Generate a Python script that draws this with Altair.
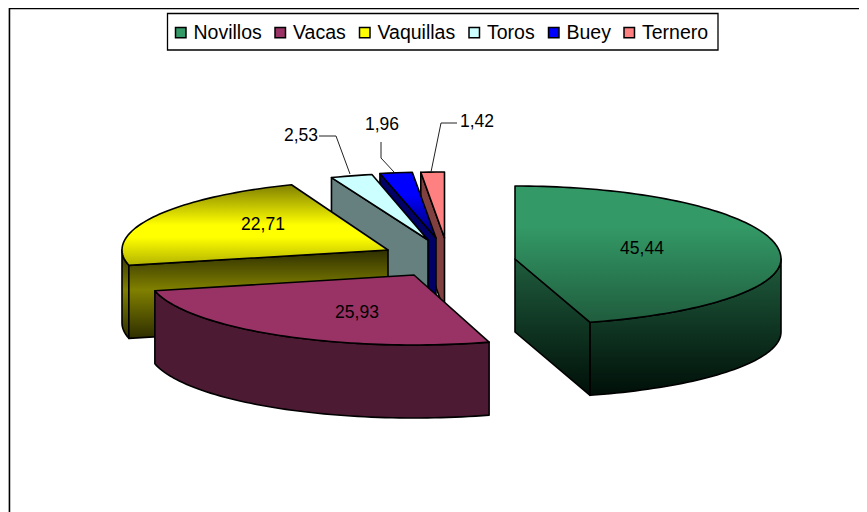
import math
import altair as alt
import pandas as pd

categories = ["Novillos", "Vacas", "Vaquillas", "Toros", "Buey", "Ternero"]
values = [45.44, 25.93, 22.71, 2.53, 1.96, 1.42]
colors = ["#339966", "#993366", "#FFFF00", "#CCFFFF", "#0000FF", "#FF8080"]

# layout of the exploded 3-D pie (apex of each slice, in page pixels)
apex = {"Novillos": (515, 259), "Vacas": (414, 275), "Vaquillas": (388, 250),
        "Toros": (428, 240), "Buey": (436, 238), "Ternero": (444.5, 238)}
ry_back = {"Novillos": 73, "Vacas": 70, "Vaquillas": 70, "Toros": 67, "Buey": 66, "Ternero": 66}
ry_front = {"Novillos": 66, "Vacas": 70, "Vaquillas": 68, "Toros": 68, "Buey": 68, "Ternero": 68}
RX, DEPTH = 266, 73
label_pos = {"Novillos": (642, 249), "Vacas": (357, 313), "Vaquillas": (263, 225),
             "Toros": (301, 136), "Buey": (382, 125), "Ternero": (477, 122)}
leaders = {"Toros": [(319, 136), (336, 136), (350, 174)],
           "Buey": [(381, 142), (381, 158), (394, 172)],
           "Ternero": [(457, 123), (441, 123), (431, 172)]}

X = alt.X("x:Q", axis=None, scale=alt.Scale(domain=[8, 859], nice=False, zero=False))
Y = alt.Y("y:Q", axis=None, scale=alt.Scale(domain=[512, 8], nice=False, zero=False))

total = sum(values)
angles = {}
a = 0.0
for c, v in zip(categories, values):
    angles[c] = (a, a + v / total * 360)
    a += v / total * 360


def P(cat, deg, dz=0):
    cx, cy = apex[cat]
    t = math.radians(deg)
    cs = math.cos(t)
    ry = ry_back[cat] if cs > 0 else ry_front[cat]
    return (cx + RX * math.sin(t), cy - ry * cs + dz)


def arc(cat, d0, d1, dz=0):
    n = max(2, int(abs(d1 - d0) / 1.5))
    return [P(cat, d0 + (d1 - d0) * i / n, dz) for i in range(n + 1)]


def grad(stops):
    return alt.LinearGradient(
        gradient="linear", x1=0, y1=0, x2=0, y2=1,
        stops=[alt.GradientStop(offset=o, color=c) for o, c in stops])


def poly(points, fill):
    df = pd.DataFrame(points, columns=["x", "y"]).reset_index(names="i")
    return alt.Chart(df).mark_line(
        interpolate="linear-closed", fill=fill, stroke="black",
        strokeWidth=1.6, strokeJoin="round", clip=False,
    ).encode(x=X, y=Y, order="i:Q")


def top(cat):
    s, e = angles[cat]
    return [apex[cat]] + arc(cat, s, e)


def radial(cat, deg):
    cx, cy = apex[cat]
    p = P(cat, deg)
    return [p, (cx, cy), (cx, cy + DEPTH), (p[0], p[1] + DEPTH)]


def rim(cat, d0, d1):
    return arc(cat, d0, d1) + arc(cat, d1, d0, DEPTH)


layers = []
# frame
frame = pd.DataFrame({"x": [9.5, 9.5, 859], "y": [512, 8.5, 8.5]}).reset_index(names="i")
layers.append(alt.Chart(frame).mark_line(color="black", strokeWidth=1.5, clip=False)
              .encode(x=X, y=Y, order="i:Q"))

# legend box
box = pd.DataFrame({"x": [167.5], "x2": [718], "y": [13.5], "y2": [50]})
layers.append(alt.Chart(box).mark_rect(fill="white", stroke="black", strokeWidth=1.3).encode(
    x=X, x2="x2:Q", y=Y, y2="y2:Q"))

yellow_side = grad([(0, "#2E2E00"), (0.45, "#808000"), (1, "#2E2E00")])
green_side = grad([(0, "#1F5C3D"), (1, "#000F08")])

layers += [poly(radial("Ternero", angles["Ternero"][0]), "#804040"),
           poly(top("Ternero"), "#FF8080"),
           poly(radial("Buey", angles["Buey"][0]), "#000066"),
           poly(top("Buey"), grad([(0, "#0000FF"), (0.35, "#0000FF"), (1, "#000060")])),
           poly(radial("Toros", angles["Toros"][0]), "#668080"),
           poly(top("Toros"), "#CCFFFF"),
           poly(rim("Vaquillas", angles["Vaquillas"][0], 270), yellow_side),
           poly(radial("Vaquillas", angles["Vaquillas"][0]), yellow_side),
           poly(top("Vaquillas"), grad([(0, "#808000"), (0.5, "#FFFF00"), (0.65, "#FFFF00"), (1, "#B3B300")])),
           poly(rim("Vacas", angles["Vacas"][0], angles["Vacas"][1]), "#4D1A33"),
           poly(top("Vacas"), "#993366"),
           poly(radial("Novillos", angles["Novillos"][1]), green_side),
           poly(rim("Novillos", 90, angles["Novillos"][1]), green_side),
           poly(top("Novillos"), grad([(0, "#339966"), (0.3, "#339966"), (1, "#1F5C3D")]))]

# leader lines
for cat, pts in leaders.items():
    df = pd.DataFrame(pts, columns=["x", "y"]).reset_index(names="i")
    layers.append(alt.Chart(df).mark_line(color="#222222", strokeWidth=1, clip=False)
                  .encode(x=X, y=Y, order="i:Q"))

# data labels
lab = pd.DataFrame({
    "x": [label_pos[c][0] for c in categories],
    "y": [label_pos[c][1] for c in categories],
    "t": [f"{v:.2f}".replace(".", ",") for v in values],
})
layers.append(alt.Chart(lab).mark_text(font="Liberation Sans", fontSize=17.5, color="black",
                                        align="center", baseline="middle")
              .encode(x=X, y=Y, text="t:N"))

# legend
leg = pd.DataFrame({"name": categories, "x": [441] * 6, "y": [260] * 6})
layers.append(alt.Chart(leg).mark_square(size=0).encode(
    x=X, y=Y,
    color=alt.Color("name:N", scale=alt.Scale(domain=categories, range=colors), sort=None,
                    legend=alt.Legend(
                        orient="none", legendX=163, legendY=14.5, direction="horizontal",
                        columns=6, title=None, symbolType="square", symbolSize=110,
                        symbolStrokeColor="black", symbolStrokeWidth=1.5, symbolOpacity=1,
                        labelFont="Liberation Sans", labelFontSize=19.5, labelColor="black",
                        labelOffset=3, columnPadding=8.5, padding=0,
                        labelLimit=200)),
))

chart = alt.layer(*layers).properties(
    width=851, height=504, padding=0, autosize="none",
).configure_view(stroke=None).configure(background="white")

chart.save("out.html", embed_options={"renderer": "svg", "actions": False})
